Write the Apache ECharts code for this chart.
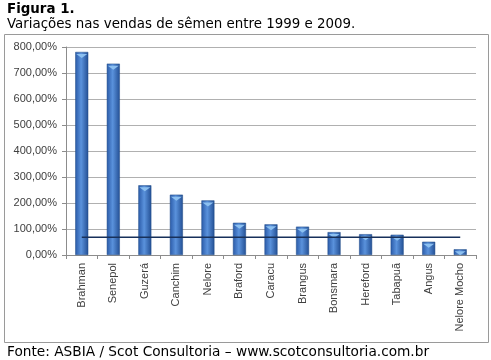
<!DOCTYPE html>
<html><head><meta charset="utf-8">
<script src="https://cdn.jsdelivr.net/npm/echarts@6/dist/echarts.min.js"></script>
<style>html,body{margin:0;padding:0;background:#fff}#c{width:491px;height:360px}</style>
</head><body><div id="c"></div>
<script>
const categories = ['Brahman','Senepol','Guzerá','Canchim','Nelore','Braford','Caracu','Brangus','Bonsmara','Hereford','Tabapuã','Angus','Nelore Mocho'];
const variations = [781, 736, 268, 232, 210, 124, 118, 109, 88, 80, 78, 51, 22];
const averageLine = [68, 68, 68, 68, 68, 68, 68, 68, 68, 68, 68, 68, 68];
const yTicks = [0, 100, 200, 300, 400, 500, 600, 700, 800];

const chart = echarts.init(document.getElementById('c'), null, {renderer: 'canvas'});
const fmt = v => v.toFixed(2).replace('.', ',') + '%';
chart.setOption({
  animation: false,
  textStyle: {fontFamily: 'DejaVu Sans'},
  graphic: [
    {type: 'rect', shape: {x: 4.5, y: 34.5, width: 484, height: 308}, style: {fill: 'none', stroke: '#9a9a9a', lineWidth: 1}},
    {type: 'text', left: 7, top: 3, style: {text: 'Figura 1.', font: 'bold 13.4px "DejaVu Sans"', fill: '#000'}},
    {type: 'text', left: 7, top: 18, style: {text: 'Variações nas vendas de sêmen entre 1999 e 2009.', font: '13.4px "DejaVu Sans"', fill: '#000'}},
    {type: 'text', left: 7, top: 345, style: {text: 'Fonte: ASBIA / Scot Consultoria – www.scotconsultoria.com.br', font: '13.7px "DejaVu Sans"', fill: '#000'}}
  ],
  grid: {left: 66, right: 15, top: 47, bottom: 105, containLabel: false},
  xAxis: {
    type: 'category', data: categories,
    axisLine: {lineStyle: {color: '#8c8c8c'}},
    axisTick: {show: true, length: 4, lineStyle: {color: '#8c8c8c'}},
    axisLabel: {rotate: 90, fontSize: 11, color: '#404040', fontFamily: 'Liberation Sans', margin: 8, interval: 0}
  },
  yAxis: {
    type: 'value', min: 0, max: 800, interval: 100,
    axisLine: {show: true, lineStyle: {color: '#8c8c8c'}},
    axisTick: {show: true, length: 4, lineStyle: {color: '#8c8c8c'}},
    splitLine: {lineStyle: {color: '#b0b0b0'}},
    axisLabel: {formatter: v => yTicks.includes(v) ? fmt(v) : '', fontSize: 11, color: '#404040', fontFamily: 'Liberation Sans', margin: 9}
  },
  series: [
    {
      type: 'bar', data: variations, barWidth: 13,
      itemStyle: {
        color: new echarts.graphic.LinearGradient(0, 0, 1, 0, [
          {offset: 0, color: '#2a5aa8'},
          {offset: 0.45, color: '#5a92dc'},
          {offset: 1, color: '#234f94'}
        ]),
        borderColor: '#1f4a86', borderWidth: 0.5
      }
    },
    {
      type: 'pictorialBar', data: variations, symbol: 'triangle', symbolRotate: 180, symbolSize: [11, 4],
      symbolPosition: 'end', symbolOffset: [0, '50%'], z: 3,
      itemStyle: {color: '#8cc0f0'}
    },
    {
      type: 'line', data: averageLine, symbol: 'none', z: 5,
      lineStyle: {color: '#17305a', width: 1.5}
    }
  ]
});
</script></body></html>
